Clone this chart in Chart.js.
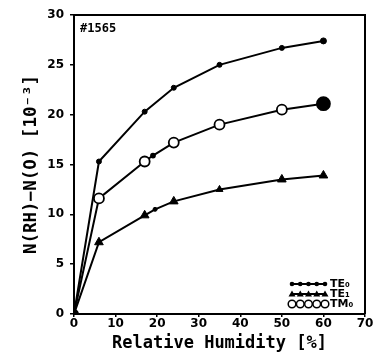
<!DOCTYPE html>
<html><head><meta charset="utf-8">
<script src="https://cdn.jsdelivr.net/npm/chart.js@4"></script>
<style>html,body{margin:0;padding:0;background:#fff;}#wrap{width:376px;height:354px;}</style>
</head><body><div id="wrap"><canvas id="c" width="376" height="354"></canvas></div>
<script>
const xTicks = [0, 10, 20, 30, 40, 50, 60, 70];
const yTicks = [0, 5, 10, 15, 20, 25, 30];
const seriesNames = ['TE\u2080', 'TE\u2081', 'TM\u2080'];
const rhTE0 = [0, 6, 17, 24, 35, 50, 60];
const valTE0 = [0, 15.3, 20.3, 22.7, 25.0, 26.7, 27.4];
const rhTE1 = [0, 6, 17, 19.5, 24, 35, 50, 60];
const valTE1 = [0, 7.2, 9.9, 10.5, 11.3, 12.5, 13.5, 13.9];
const rhTM0 = [0, 6, 17, 19, 24, 35, 50, 60];
const valTM0 = [0, 11.6, 15.3, 15.9, 17.2, 19.0, 20.5, 21.1];
const sampleLabel = '#1565';

const pts = (xs, ys) => xs.map((x, i) => ({x: x, y: ys[i]}));

function drawMarker(ctx, kind, x, y) {
  ctx.save();
  ctx.fillStyle = '#000'; ctx.strokeStyle = '#000'; ctx.lineWidth = 1.5;
  if (kind === 0) { ctx.beginPath(); ctx.arc(x, y, 2.3, 0, Math.PI*2); ctx.fill(); }
  else if (kind === 1) { ctx.beginPath(); ctx.moveTo(x, y-3.5); ctx.lineTo(x+3.5, y+2.5); ctx.lineTo(x-3.5, y+2.5); ctx.closePath(); ctx.fill(); }
  else { ctx.fillStyle = '#fff'; ctx.beginPath(); ctx.arc(x, y, 3.8, 0, Math.PI*2); ctx.fill(); ctx.stroke(); }
  ctx.restore();
}

const framePlugin = {
  id: 'frame',
  afterDatasetsDraw(chart) {
    const {ctx, chartArea: a} = chart;
    ctx.save();
    ctx.strokeStyle = '#000'; ctx.lineWidth = 2;
    ctx.beginPath();
    ctx.moveTo(a.left, a.top); ctx.lineTo(a.right, a.top); ctx.lineTo(a.right, a.bottom);
    ctx.stroke();
    ctx.fillStyle = '#000';
    ctx.font = 'bold 12px "DejaVu Sans Mono"';
    ctx.textBaseline = 'middle'; ctx.textAlign = 'left';
    ctx.fillText(sampleLabel, a.left + 6, a.top + 14);
    const rows = [a.bottom - 30, a.bottom - 20, a.bottom - 10];
    const x0 = 292, x1 = 325;
    ctx.font = 'bold 11px "DejaVu Sans"';
    rows.forEach((yy, k) => {
      ctx.strokeStyle = '#000'; ctx.lineWidth = 1.8;
      ctx.beginPath(); ctx.moveTo(x0, yy); ctx.lineTo(x1, yy); ctx.stroke();
      for (let i = 0; i < 5; i++) drawMarker(ctx, k, x0 + i * (x1 - x0) / 4, yy);
      ctx.fillStyle = '#000';
      ctx.fillText(seriesNames[k], x1 + 5, yy);
    });
    ctx.restore();
  }
};

new Chart(document.getElementById('c'), {
  type: 'line',
  data: {
    datasets: [
      { label: seriesNames[0], data: pts(rhTE0, valTE0), borderColor: '#000', borderWidth: 2,
        pointStyle: 'circle', pointRadius: [4, 2.5, 2.5, 2.5, 2.5, 2.5, 3], pointBackgroundColor: '#000', pointBorderColor: '#000', pointBorderWidth: 1 },
      { label: seriesNames[1], data: pts(rhTE1, valTE1), borderColor: '#000', borderWidth: 2,
        pointStyle: ['circle', 'triangle', 'triangle', 'circle', 'triangle', 'triangle', 'triangle', 'triangle'],
        pointRadius: [4, 5, 5, 2, 5, 4, 5, 5], pointBackgroundColor: '#000', pointBorderColor: '#000', pointBorderWidth: 1 },
      { label: seriesNames[2], data: pts(rhTM0, valTM0), borderColor: '#000', borderWidth: 2,
        pointStyle: 'circle', pointRadius: [4, 5, 5, 2, 5, 5, 5, 6.5],
        pointBackgroundColor: ['#000', '#fff', '#fff', '#000', '#fff', '#fff', '#fff', '#000'],
        pointBorderColor: '#000', pointBorderWidth: 1.8 }
    ]
  },
  options: {
    responsive: false, animation: false, devicePixelRatio: 1,
    layout: { padding: { top: 15, right: 11, left: 0, bottom: 0 } },
    plugins: { legend: { display: false }, tooltip: { enabled: false } },
    elements: { line: { tension: 0 } },
    scales: {
      x: {
        type: 'linear', min: 0, max: 70,
        afterBuildTicks: s => { s.ticks = xTicks.map(v => ({value: v})); },
        afterFit: s => { s.height = 40; },
        grid: { display: true, drawOnChartArea: false, drawTicks: true, tickLength: 3, color: '#000', lineWidth: 1.5 },
        border: { color: '#000', width: 2 },
        ticks: { color: '#000', padding: 0, maxRotation: 0, font: { family: '"DejaVu Sans"', weight: 'bold', size: 12 } },
        title: { display: true, text: 'Relative Humidity [%]', color: '#000', padding: { top: 3, bottom: 0 },
          font: { family: '"DejaVu Sans Mono"', weight: 'bold', size: 17 } }
      },
      y: {
        type: 'linear', min: 0, max: 30,
        afterBuildTicks: s => { s.ticks = yTicks.map(v => ({value: v})); },
        afterFit: s => { s.width = 74; },
        grid: { display: true, drawOnChartArea: false, drawTicks: true, tickLength: 4, color: '#000', lineWidth: 1.5 },
        border: { color: '#000', width: 2 },
        ticks: { color: '#000', padding: 6, font: { family: '"DejaVu Sans"', weight: 'bold', size: 12 } },
        title: { display: true, text: 'N(RH)\u2212N(O) [10\u207B\u00B3]', color: '#000', padding: { top: 21, bottom: 0 },
          font: { family: '"DejaVu Sans Mono"', weight: 'bold', size: 17.5 } }
      }
    }
  },
  plugins: [framePlugin]
});
</script>
</body></html>
